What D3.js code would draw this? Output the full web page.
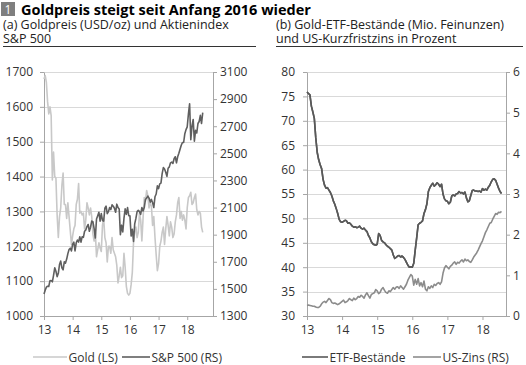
<!DOCTYPE html>
<html>
<head>
  <meta charset="utf-8">
  <title>Goldpreis</title>
  <style>
    body { margin: 0; background: #fff; }
    svg text { font-family: "Open Sans", "Noto Sans", sans-serif; fill: #333; }
  </style>
</head>
<body>
  <svg id="svg" width="526" height="365"></svg>
  <script src="https://d3js.org/d3.v7.min.js"></script>
  <script>
    // half-monthly observations, Jan 2013 to mid-Jul 2018
    let goldValues = [
      1680, 1690, 1670, 1615, 1580, 1600, 1575, 1390, 1470, 1400, 1395, 1290, 1225, 1285, 1310, 1375, 1410, 1320, 1320, 1280, 1325, 1285, 1245, 1205,
      1230, 1250, 1260, 1320, 1335, 1380, 1295, 1300, 1290, 1295, 1250, 1275, 1325, 1310, 1290, 1310, 1285, 1235, 1215, 1240, 1170, 1190, 1210, 1195,
      1185, 1260, 1280, 1225, 1210, 1155, 1200, 1200, 1180, 1225, 1190, 1180, 1170, 1145, 1095, 1115, 1140, 1110, 1115, 1180, 1140, 1085, 1065, 1060,
      1065, 1090, 1125, 1210, 1240, 1255, 1225, 1240, 1295, 1275, 1215, 1280, 1340, 1330, 1360, 1345, 1310, 1325, 1315, 1260, 1285, 1225, 1175, 1130,
      1150, 1200, 1215, 1240, 1255, 1205, 1250, 1285, 1260, 1230, 1270, 1255, 1225, 1235, 1270, 1290, 1325, 1340, 1280, 1300, 1275, 1290, 1275, 1250,
      1310, 1340, 1345, 1355, 1320, 1325, 1340, 1350, 1305, 1290, 1300, 1295, 1255, 1240
    ];
    let spxValues = [
      1462, 1490, 1513, 1520, 1518, 1560, 1562, 1552, 1600, 1655, 1630, 1590, 1615, 1680, 1705, 1655, 1640, 1700, 1690, 1720, 1760, 1790, 1800, 1780,
      1830, 1845, 1780, 1840, 1860, 1845, 1885, 1845, 1885, 1880, 1925, 1935, 1960, 1975, 1925, 1955, 2000, 1995, 1945, 1875, 2015, 2040, 2065, 2000,
      2055, 2005, 2000, 2095, 2110, 2055, 2070, 2100, 2085, 2120, 2110, 2095, 2065, 2125, 2100, 2090, 1900, 1970, 1920, 2020, 2090, 2050, 2100, 2040,
      2040, 1890, 1940, 1850, 1980, 2020, 2070, 2080, 2070, 2050, 2100, 2075, 2100, 2160, 2170, 2185, 2170, 2140, 2160, 2135, 2100, 2180, 2200, 2260,
      2240, 2275, 2280, 2350, 2395, 2385, 2360, 2330, 2390, 2400, 2430, 2435, 2425, 2460, 2475, 2430, 2475, 2500, 2530, 2560, 2580, 2580, 2645, 2675,
      2695, 2790, 2865, 2600, 2700, 2750, 2590, 2670, 2650, 2720, 2735, 2780, 2720, 2800
    ];
    let etfValues = [
      75.9, 75.6, 75.3, 73.0, 71.8, 70.5, 66.5, 63.5, 62.0, 61.0, 60.2, 58.0, 56.8, 56.2, 56.3, 55.8, 55.3, 54.6, 53.6, 52.9, 52.0, 51.0, 49.8, 49.3,
      49.2, 49.4, 49.6, 49.5, 49.0, 49.1, 48.8, 48.4, 48.2, 48.3, 48.1, 48.2, 48.4, 48.0, 47.8, 48.0, 47.6, 47.3, 46.5, 46.0, 45.2, 44.8, 44.6, 44.5,
      44.7, 46.9, 46.5, 45.5, 45.2, 45.0, 44.6, 44.3, 44.1, 43.8, 43.5, 42.5, 41.8, 42.0, 42.3, 42.4, 42.1, 42.3, 42.0, 41.6, 41.0, 40.4, 40.0, 40.1,
      40.0, 40.8, 43.5, 46.0, 48.7, 49.0, 49.2, 49.5, 51.0, 51.8, 53.0, 55.5, 56.3, 56.8, 57.2, 56.6, 56.9, 57.3, 57.0, 56.5, 57.0, 55.0, 54.0, 53.6,
      53.5, 53.0, 53.3, 54.6, 54.8, 54.6, 55.0, 55.1, 55.5, 55.2, 55.3, 55.0, 55.4, 54.2, 53.4, 53.6, 54.7, 55.7, 55.8, 55.6, 55.6, 55.5, 55.6, 55.4,
      56.1, 55.8, 56.0, 55.8, 56.4, 56.8, 57.5, 58.0, 58.1, 57.8, 57.0, 56.2, 55.5, 55.1
    ];
    let usRateValues = [
      0.26, 0.27, 0.26, 0.25, 0.24, 0.24, 0.22, 0.21, 0.21, 0.24, 0.30, 0.34, 0.36, 0.33, 0.38, 0.43, 0.40, 0.33, 0.31, 0.32, 0.30, 0.28, 0.30, 0.33,
      0.36, 0.39, 0.33, 0.35, 0.38, 0.43, 0.40, 0.38, 0.44, 0.40, 0.43, 0.48, 0.46, 0.51, 0.48, 0.44, 0.52, 0.57, 0.50, 0.44, 0.53, 0.55, 0.57, 0.65,
      0.62, 0.55, 0.58, 0.66, 0.70, 0.63, 0.58, 0.56, 0.62, 0.60, 0.65, 0.70, 0.66, 0.71, 0.72, 0.68, 0.74, 0.70, 0.66, 0.72, 0.78, 0.88, 0.95, 1.02,
      0.98, 0.76, 0.90, 0.78, 0.92, 0.74, 0.82, 0.72, 0.86, 0.66, 0.62, 0.72, 0.68, 0.74, 0.70, 0.78, 0.75, 0.80, 0.82, 0.78, 0.84, 1.05, 1.18, 1.24,
      1.20, 1.16, 1.22, 1.25, 1.30, 1.33, 1.27, 1.32, 1.30, 1.35, 1.38, 1.33, 1.40, 1.36, 1.38, 1.34, 1.32, 1.38, 1.45, 1.50, 1.55, 1.62, 1.70, 1.78,
      1.85, 1.95, 2.05, 2.12, 2.20, 2.28, 2.30, 2.38, 2.45, 2.52, 2.50, 2.55, 2.54, 2.57
    ];

    let yearTicks = [2013, 2014, 2015, 2016, 2017, 2018];
    let goldTicks = [1000, 1100, 1200, 1300, 1400, 1500, 1600, 1700];
    let spxTicks = [1300, 1500, 1700, 1900, 2100, 2300, 2500, 2700, 2900, 3100];
    let etfTicks = [30, 35, 40, 45, 50, 55, 60, 65, 70, 75, 80];
    let rateTicks = [0, 1, 2, 3, 4, 5, 6];

    // observation dates as decimal years (1st and 16th of each month)
    let dates = [];
    for (let y = 2013; y <= 2018; y++) {
      for (let m = 0; m < 12; m++) {
        dates.push(y + m / 12, y + (m + 0.5) / 12);
      }
    }
    dates = dates.slice(0, goldValues.length);

    let svg = d3.select("#svg");
    let plotTop = 72, plotBottom = 316;

    // title
    svg.append("rect").attr("x", 1).attr("y", 2).attr("width", 14).attr("height", 14).attr("fill", "#7f7f7f");
    svg.append("text").attr("x", 8).attr("y", 13.5).attr("text-anchor", "middle")
      .style("fill", "#fff").style("font-size", "12px").text("1");
    svg.append("text").attr("x", 21).attr("y", 15)
      .style("font-size", "14.5px").style("font-weight", "bold").style("fill", "#000")
      .text("Goldpreis steigt seit Anfang 2016 wieder");

    function subtitle(x, lines, x2) {
      lines.forEach((t, i) => {
        svg.append("text").attr("x", x).attr("y", 28.5 + i * 14.5)
          .style("font-size", "12.5px").style("fill", "#222").text(t);
      });
      svg.append("line").attr("x1", x).attr("x2", x2).attr("y1", 46.5).attr("y2", 46.5)
        .attr("stroke", "#333").attr("stroke-width", 1);
    }
    subtitle(3, ["(a) Goldpreis (USD/oz) und Aktienindex", "S&P 500"], 256);
    subtitle(276, ["(b) Gold-ETF-Bestände (Mio. Feinunzen)", "und US-Kurzfristzins in Prozent"], 523);

    function styleAxis(g) {
      g.selectAll("path").attr("stroke", "#a6a6a6");
      g.selectAll("line").attr("stroke", "#a6a6a6");
      g.selectAll("text").style("font-size", "12px").style("font-family", "\"Open Sans\", sans-serif").style("fill", "#333");
    }

    function panel(opts) {
      let x = d3.scaleLinear().domain(opts.xDomain).range([opts.left, opts.right]);
      let yL = d3.scaleLinear().domain(opts.yLDomain).range([plotBottom, plotTop]);
      let yR = d3.scaleLinear().domain(opts.yRDomain).range([plotBottom, plotTop]);

      svg.append("g").selectAll("line").data(opts.yLTicks.slice(1)).join("line")
        .attr("x1", opts.left).attr("x2", opts.right)
        .attr("y1", d => Math.round(yL(d)) + 0.5).attr("y2", d => Math.round(yL(d)) + 0.5)
        .attr("stroke", "#d9d9d9");

      let gL = svg.append("g").attr("transform", `translate(${opts.left},0)`)
        .call(d3.axisLeft(yL).tickValues(opts.yLTicks).tickFormat(d3.format("d")).tickSize(4).tickSizeOuter(0).tickPadding(opts.padL));
      styleAxis(gL);
      let gR = svg.append("g").attr("transform", `translate(${opts.right},0)`)
        .call(d3.axisRight(yR).tickValues(opts.yRTicks).tickFormat(d3.format("d")).tickSize(4).tickSizeOuter(0).tickPadding(opts.padR));
      styleAxis(gR);
      let gX = svg.append("g").attr("transform", `translate(0,${plotBottom})`)
        .call(d3.axisBottom(x).tickValues(yearTicks).tickFormat(d => String(d).slice(2)).tickSize(4).tickSizeOuter(0).tickPadding(5));
      styleAxis(gX);

      let lineL = d3.line().x((d, i) => x(dates[i])).y(d => yL(d));
      let lineR = d3.line().x((d, i) => x(dates[i])).y(d => yR(d));

      svg.append("path").datum(opts.seriesL).attr("d", lineL)
        .attr("fill", "none").attr("stroke", opts.colorL).attr("stroke-width", 1.6).attr("stroke-linejoin", "round");
      svg.append("path").datum(opts.seriesR).attr("d", lineR)
        .attr("fill", "none").attr("stroke", opts.colorR).attr("stroke-width", 1.6).attr("stroke-linejoin", "round");
      if (opts.redrawL) {
        svg.append("path").datum(opts.seriesL).attr("d", lineL)
          .attr("fill", "none").attr("stroke", opts.colorL).attr("stroke-width", 1.6).attr("stroke-linejoin", "round");
      }

      // legend
      let ly = 357;
      opts.legend.forEach(item => {
        svg.append("line").attr("x1", item.x1).attr("x2", item.x2).attr("y1", ly).attr("y2", ly)
          .attr("stroke", item.color).attr("stroke-width", 1.6);
        svg.append("text").attr("x", item.x2 + 1.5).attr("y", ly + 4.5)
          .style("font-size", "12px").text(item.label);
      });
    }

    panel({
      left: 44, right: 213, xDomain: [2013, 2018.9],
      yLDomain: [1000, 1700], yRDomain: [1300, 3100],
      yLTicks: goldTicks, yRTicks: spxTicks, padL: 7, padR: 3,
      seriesL: goldValues, seriesR: spxValues,
      colorL: "#c8c8c8", colorR: "#5f5f5f",
      legend: [
        { x1: 33, x2: 67, color: "#c8c8c8", label: "Gold (LS)" },
        { x1: 122, x2: 150, color: "#5f5f5f", label: "S&P 500 (RS)" }
      ]
    });

    panel({
      left: 307, right: 506, xDomain: [2013, 2018.67],
      yLDomain: [30, 80], yRDomain: [0, 6],
      yLTicks: etfTicks, yRTicks: rateTicks, padL: 8, padR: 3,
      seriesL: etfValues, seriesR: usRateValues,
      colorL: "#595959", colorR: "#8c8c8c", redrawL: true,
      legend: [
        { x1: 302, x2: 328, color: "#595959", label: "ETF-Bestände" },
        { x1: 413, x2: 441, color: "#8c8c8c", label: "US-Zins (RS)" }
      ]
    });
  </script>
</body>
</html>
